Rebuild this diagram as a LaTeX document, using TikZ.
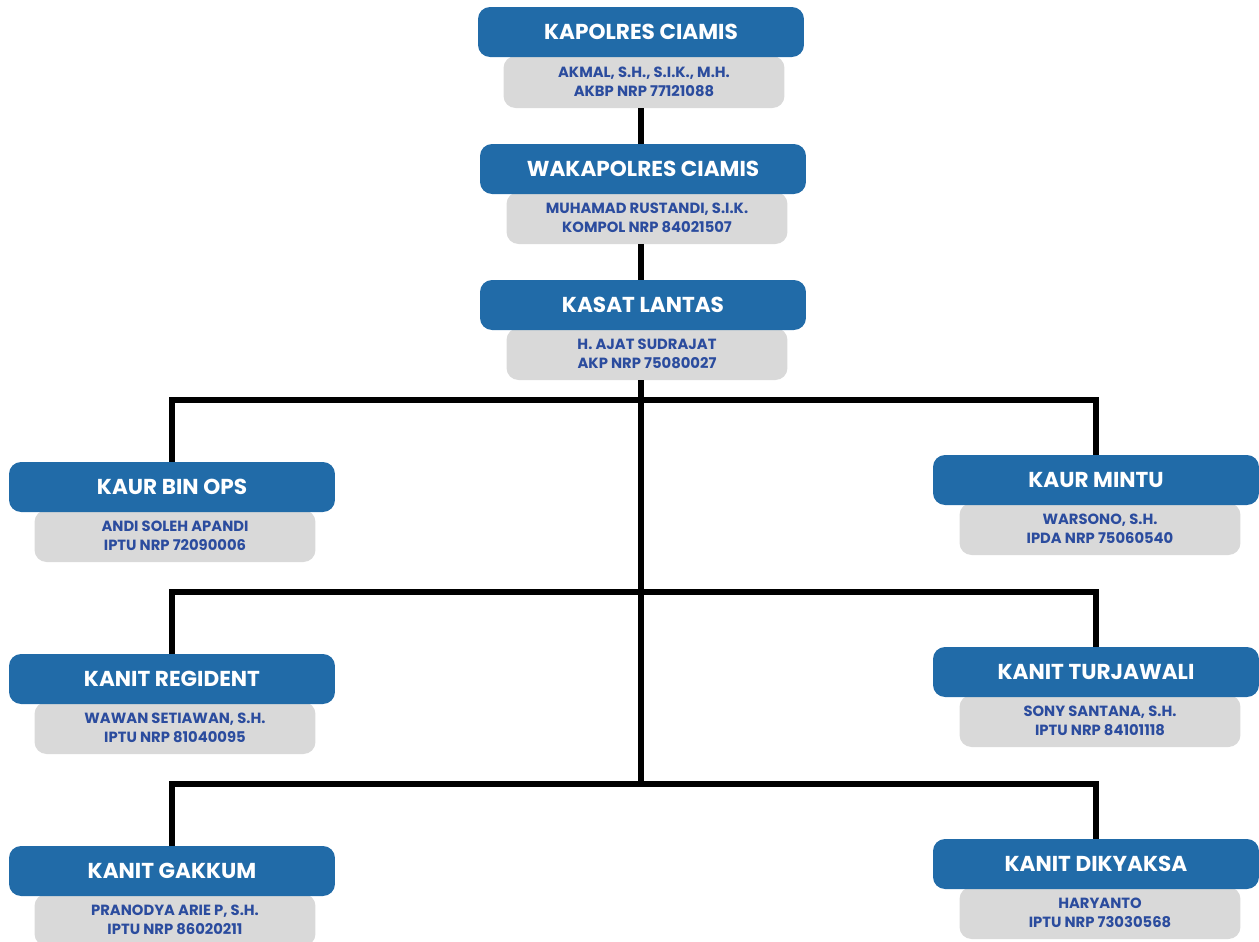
\documentclass[tikz,border=0pt]{standalone}
\usepackage{fontspec}
\setmainfont{Poppins}
\usepackage{tikz}

\definecolor{polblue}{HTML}{216BA8}
\definecolor{namegray}{HTML}{D9D9D9}
\definecolor{nametext}{HTML}{2B4C9E}

\tikzset{
    jabatan/.style={fill=polblue,rounded corners=0.24cm,minimum width=6.52cm,minimum height=1cm,
        inner sep=0pt,text=white,font=\bfseries\fontsize{12.3}{14}\selectfont},
    pejabat/.style={fill=namegray,rounded corners=0.24cm,minimum width=5.62cm,minimum height=1.04cm,
        inner sep=0pt,align=center,text=nametext,font=\bfseries\fontsize{8.4}{10.8}\selectfont},
    garis/.style={line width=3.2pt}
}

\begin{document}
\begin{tikzpicture}[x=0.02cm,y=-0.02cm]
\useasboundingbox (0,0) rectangle (1259,941);

% Pimpinan
\node[pejabat] (akmal) at (644,82) {AKMAL, S.H., S.I.K., M.H.\\AKBP NRP 77121088};
\node[jabatan] (kapolres) at (641,32) {KAPOLRES CIAMIS};

\node[pejabat] (rustandi) at (647,218) {MUHAMAD RUSTANDI, S.I.K.\\KOMPOL NRP 84021507};
\node[jabatan] (wakapolres) at (643,169) {WAKAPOLRES CIAMIS};

\node[pejabat] (sudrajat) at (647,354) {H. AJAT SUDRAJAT\\AKP NRP 75080027};
\node[jabatan] (kasat) at (643,305) {KASAT LANTAS};

% Kiri
\node[pejabat] (apandi) at (175,536) {ANDI SOLEH APANDI\\IPTU NRP 72090006};
\node[jabatan] (binops) at (172,487) {KAUR BIN OPS};

\node[pejabat] (setiawan) at (175,728) {WAWAN SETIAWAN, S.H.\\IPTU NRP 81040095};
\node[jabatan] (regident) at (172,679) {KANIT REGIDENT};

\node[pejabat] (pranodya) at (175,920) {PRANODYA ARIE P, S.H.\\IPTU NRP 86020211};
\node[jabatan] (gakkum) at (172,871) {KANIT GAKKUM};

% Kanan
\node[pejabat] (warsono) at (1100,529) {WARSONO, S.H.\\IPDA NRP 75060540};
\node[jabatan] (mintu) at (1096,480) {KAUR MINTU};

\node[pejabat] (santana) at (1100,721) {SONY SANTANA, S.H.\\IPTU NRP 84101118};
\node[jabatan] (turjawali) at (1096,672) {KANIT TURJAWALI};

\node[pejabat] (haryanto) at (1100,913) {HARYANTO\\IPTU NRP 73030568};
\node[jabatan] (dikyaksa) at (1096,864) {KANIT DIKYAKSA};

% Garis komando
\coordinate (cab1) at (641,400);
\coordinate (cab2) at (641,592);
\coordinate (cab3) at (641,784);

\draw[garis] (akmal.south -| cab1) -- (wakapolres.north -| cab1);
\draw[garis] (rustandi.south -| cab1) -- (kasat.north -| cab1);
\draw[garis] (sudrajat.south -| cab1) -- (cab3);

\foreach \kiri/\kanan/\cab in {binops/mintu/cab1, regident/turjawali/cab2, gakkum/dikyaksa/cab3} {
    \draw[garis] (\kiri.north) |- (\cab) -| (\kanan.north);
}
\end{tikzpicture}
\end{document}
